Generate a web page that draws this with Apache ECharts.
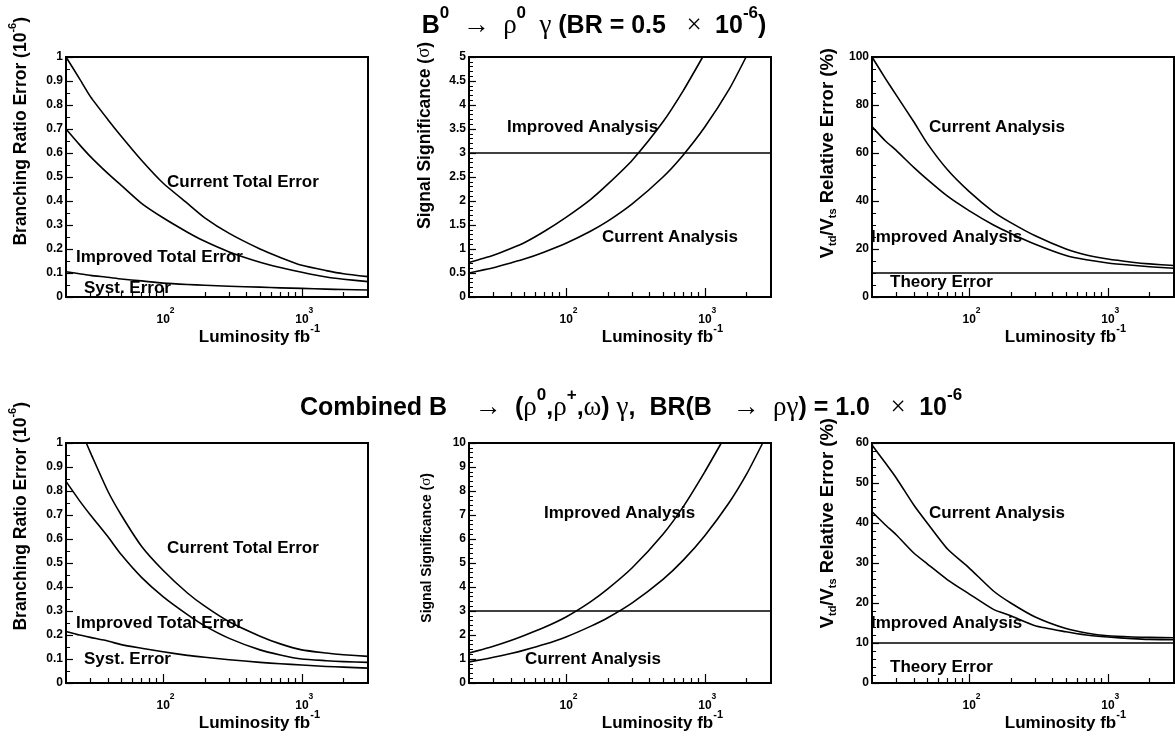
<!DOCTYPE html>
<html><head><meta charset="utf-8">
<script src="https://cdn.jsdelivr.net/npm/echarts@6/dist/echarts.min.js"></script>
<style>html,body{margin:0;padding:0;background:#fff}#c{width:1175px;height:738px}</style>
</head><body><div id="c"></div>
<script>
// ---------------- DATA ----------------
const xMin = 20, xMax = 3000;
const xMajorTicks = [100, 1000];
const xMinorTicks = [30,40,50,60,70,80,90,200,300,400,500,600,700,800,900,2000];
const lumi = [20,25,30,40,50,70,100,150,200,300,500,700,1000,1500,2000,3000];

// Top row: B0 -> rho0 gamma (BR = 0.5e-6)
const b0BrCurrent  = [1.00,0.91,0.835,0.74,0.67,0.57,0.475,0.39,0.33,0.265,0.20,0.165,0.132,0.11,0.097,0.085];
const b0BrImproved = [0.70,0.635,0.585,0.515,0.465,0.39,0.33,0.27,0.232,0.188,0.145,0.123,0.103,0.083,0.074,0.064];
const b0BrSyst     = [0.105,0.097,0.09,0.082,0.075,0.067,0.058,0.052,0.049,0.045,0.041,0.038,0.036,0.033,0.031,0.029];

const b0SigLumiImproved = [20,25,30,40,50,70,100,150,200,300,500,700,966];
const b0SigImproved     = [0.72,0.80,0.87,1.01,1.13,1.37,1.66,2.03,2.35,2.85,3.65,4.3,5.0];
const b0SigLumiCurrent  = [20,25,30,40,50,70,100,150,200,300,500,700,1000,1500,1984];
const b0SigCurrent      = [0.50,0.56,0.61,0.71,0.79,0.94,1.12,1.37,1.58,1.94,2.5,2.96,3.54,4.33,5.0];

const b0VtdCurrent  = [100,91,84,73,64,53,44,35.5,31,25.5,20,17.5,15.8,14.5,13.8,13.1];
const b0VtdImproved = [71,65,61,54,49,42,36,30,26.5,22,17.3,15.5,14.2,13.2,12.6,12.0];

// Bottom row: combined B -> (rho0, rho+, omega) gamma (BR = 1.0e-6)
const combBrLumiCurrent = [28,30,40,50,70,100,150,200,300,500,700,1000,1500,2000,3000];
const combBrCurrent     = [1.0,0.96,0.80,0.70,0.57,0.47,0.375,0.32,0.255,0.195,0.163,0.138,0.125,0.118,0.111];
const combBrImproved    = [0.84,0.76,0.70,0.61,0.535,0.44,0.36,0.285,0.238,0.186,0.138,0.117,0.10,0.093,0.089,0.086];
const combBrSyst        = [0.215,0.20,0.19,0.175,0.16,0.145,0.13,0.115,0.107,0.097,0.086,0.08,0.075,0.069,0.066,0.062];

const combSigLumiImproved = [20,25,30,40,50,70,100,150,200,300,500,700,1000,1315];
const combSigImproved     = [1.25,1.40,1.53,1.77,1.98,2.32,2.75,3.38,3.92,4.8,6.2,7.35,8.8,10.0];
const combSigLumiCurrent  = [20,25,30,40,50,70,100,150,200,300,500,700,1000,1500,2000,2614];
const combSigCurrent      = [0.88,0.98,1.07,1.23,1.37,1.61,1.92,2.36,2.72,3.34,4.32,5.12,6.14,7.52,8.7,10.0];

const combVtdCurrent  = [59.5,55,51.2,44.5,40,33.5,28.8,23,20,16.5,13.6,12.5,11.8,11.5,11.4,11.3];
const combVtdImproved = [42.8,39.5,37,32.5,29.8,25.8,22.3,18.4,16.8,14.3,12.8,12.0,11.5,11.1,10.9,10.8];

const sigThreshold = 3;     // 3 sigma line
const theoryError = 10;     // theory error (%)

// y axis ranges per panel
const yMin = [0,0,0,0,0,0];
const yMax = [1,5,100,1,10,60];
const yInterval = [0.1,0.5,20,0.1,1,10];
const yMinorSplit = [2,5,4,2,5,5];

// ---------------- LAYOUT / STYLE ----------------
const FONT = '"Liberation Sans", Arial, Helvetica, sans-serif';
const SYM = '"Liberation Serif", "DejaVu Serif", serif';
const PW = 302, PH = 240;
const gridPos = [[66,57],[469,57],[872,57],[66,443],[469,443],[872,443]];

const grids = gridPos.map(p => ({left:p[0], top:p[1], width:PW, height:PH, show:true,
  borderColor:'#000', borderWidth:2, backgroundColor:'transparent', containLabel:false}));

const xAxes = [];
gridPos.forEach((p, i) => {
  xAxes.push({
    type:'log', logBase:10, min:xMin, max:xMax, gridIndex:i, position:'bottom',
    axisLine:{show:true, lineStyle:{color:'#000', width:2}},
    axisTick:{show:true, inside:true, length:9, customValues:xMajorTicks, lineStyle:{color:'#000', width:1.2}},
    axisLabel:{show:true, customValues:xMajorTicks, margin:9,
      formatter: v => '{b|10}{s|' + Math.round(Math.log10(v)) + '}',
      rich:{
        b:{fontFamily:FONT, fontSize:12, fontWeight:'bold', color:'#000', lineHeight:13, verticalAlign:'bottom', padding:[0,0,0,5]},
        s:{fontFamily:FONT, fontSize:8.5, fontWeight:'bold', color:'#000', verticalAlign:'top', padding:[0,0,11,0]}
      }},
    splitLine:{show:false}, minorTick:{show:false}
  });
  xAxes.push({
    type:'log', logBase:10, min:xMin, max:xMax, gridIndex:i, position:'bottom',
    axisLine:{show:false},
    axisTick:{show:true, inside:true, length:5, customValues:xMinorTicks, lineStyle:{color:'#000', width:1.2}},
    axisLabel:{show:false}, splitLine:{show:false}
  });
});

const yAxes = gridPos.map((p, i) => ({
  type:'value', gridIndex:i, min:yMin[i], max:yMax[i], interval:yInterval[i],
  axisLine:{show:true, lineStyle:{color:'#000', width:2}},
  axisTick:{show:true, inside:true, length:7, lineStyle:{color:'#000', width:1.2}},
  minorTick:{show:true, splitNumber:yMinorSplit[i], length:4, lineStyle:{color:'#000', width:1}},
  axisLabel:{show:true, margin:3, fontFamily:FONT, fontSize:12, fontWeight:'bold', color:'#000'},
  splitLine:{show:false}
}));

function line(g, xs, ys) {
  return {type:'line', xAxisIndex:g*2, yAxisIndex:g, data:xs.map((x,k)=>[x, ys[k]]),
    showSymbol:false, symbol:'none', smooth:0.2, clip:true, silent:true,
    lineStyle:{color:'#000', width:1.6, join:'round'}, z:3};
}
const series = [
  line(0, lumi, b0BrCurrent), line(0, lumi, b0BrImproved), line(0, lumi, b0BrSyst),
  line(1, b0SigLumiImproved, b0SigImproved), line(1, b0SigLumiCurrent, b0SigCurrent),
  line(1, [xMin,xMax], [sigThreshold,sigThreshold]),
  line(2, lumi, b0VtdCurrent), line(2, lumi, b0VtdImproved), line(2, [xMin,xMax], [theoryError,theoryError]),
  line(3, combBrLumiCurrent, combBrCurrent), line(3, lumi, combBrImproved), line(3, lumi, combBrSyst),
  line(4, combSigLumiImproved, combSigImproved), line(4, combSigLumiCurrent, combSigCurrent),
  line(4, [xMin,xMax], [sigThreshold,sigThreshold]),
  line(5, lumi, combVtdCurrent), line(5, lumi, combVtdImproved), line(5, [xMin,xMax], [theoryError,theoryError])
];

// ---------------- TEXT ----------------
const graphics = [];
function txt(x, y, text, rich, o) {
  o = o || {};
  graphics.push({type:'text', x:x, y:y, rotation:o.rot || 0, silent:true, z:10,
    style:{text:text, rich:rich, align:o.align || 'left', verticalAlign:o.va || 'middle',
      fill:'#000', fontFamily:FONT, fontWeight:'bold', fontSize:o.fs || 17}});
}
const titleRich = {
  t:{fontFamily:FONT, fontSize:25, fontWeight:'bold', fill:'#000', lineHeight:28, verticalAlign:'bottom'},
  g:{fontFamily:SYM, fontSize:27, fontWeight:'normal', fill:'#000', lineHeight:28, verticalAlign:'bottom'},
  s:{fontFamily:FONT, fontSize:17, fontWeight:'bold', fill:'#000', verticalAlign:'top', padding:[0,0,17,0]}
};
txt(594, 5, '{t|B}{s|0}{g|  \u2192  \u03c1}{s|0}{g|  \u03b3 }{t|(BR = 0.5 }{g|  \u00d7  }{t|10}{s|-6}{t|)}', titleRich, {align:'center', va:'top'});
txt(631, 387, '{t|Combined B  }{g|  \u2192  }{t|(}{g|\u03c1}{s|0}{t|,}{g|\u03c1}{s|+}{t|,}{g|\u03c9}{t|) }{g|\u03b3}{t|,  BR(B  }{g| \u2192  \u03c1\u03b3}{t|) = 1.0 }{g|  \u00d7  }{t|10}{s|-6}', titleRich, {align:'center', va:'top'});

function axRich(fs) {
  return {
    a:{fontFamily:FONT, fontSize:fs, fontWeight:'bold', fill:'#000', lineHeight:18, verticalAlign:'bottom'},
    g:{fontFamily:SYM, fontSize:fs+1, fontWeight:'normal', fill:'#000', lineHeight:18, verticalAlign:'bottom'},
    s:{fontFamily:FONT, fontSize:11, fontWeight:'bold', fill:'#000', verticalAlign:'top', padding:[0,0,12,0]},
    u:{fontFamily:FONT, fontSize:11, fontWeight:'bold', fill:'#000', verticalAlign:'top', padding:[9,0,0,0]},
    m:{fontFamily:FONT, fontSize:fs, fontWeight:'bold', fill:'#000', lineHeight:20, verticalAlign:'top'}
  };
}
// x axis titles
gridPos.forEach(p => {
  txt(p[0] + PW - 48, p[1] + PH + 26, '{a|Luminosity fb}{s|-1}', axRich(17), {align:'right', va:'top'});
});
// y axis titles (rotated)
const R = Math.PI / 2;
txt(19, 17, '{a|Branching Ratio Error (10}{s|-6}{a|)}', axRich(17.5), {rot:R, align:'right'});
txt(19, 402, '{a|Branching Ratio Error (10}{s|-6}{a|)}', axRich(17.5), {rot:R, align:'right'});
txt(425, 42, '{a|Signal Significance (}{g|\u03c3}{a|)}', axRich(17.5), {rot:R, align:'right'});
txt(425, 473, '{a|Signal Significance (}{g|\u03c3}{a|)}', axRich(14), {rot:R, align:'right'});
txt(828, 48, '{m|V}{u|td}{m|/V}{u|ts}{m| Relative Error (%)}', axRich(18.5), {rot:R, align:'right'});
txt(828, 418, '{m|V}{u|td}{m|/V}{u|ts}{m| Relative Error (%)}', axRich(18.5), {rot:R, align:'right'});

// in-plot annotations
const notes = [
  [167,182,'Current Total Error'], [76,257,'Improved Total Error'], [84,288,'Syst. Error'],
  [507,127,'Improved Analysis'], [602,237,'Current Analysis'],
  [929,127,'Current Analysis'], [871,237,'Improved Analysis'], [890,282,'Theory Error'],
  [167,548,'Current Total Error'], [76,623,'Improved Total Error'], [84,659,'Syst. Error'],
  [544,513,'Improved Analysis'], [525,659,'Current Analysis'],
  [929,513,'Current Analysis'], [871,623,'Improved Analysis'], [890,667,'Theory Error']
];
notes.forEach(n => txt(n[0], n[1], n[2], null, {fs:17}));

const chart = echarts.init(document.getElementById('c'), null, {renderer:'canvas'});
chart.setOption({
  animation:false, backgroundColor:'#fff',
  grid:grids, xAxis:xAxes, yAxis:yAxes, series:series, graphic:graphics
});
</script></body></html>
